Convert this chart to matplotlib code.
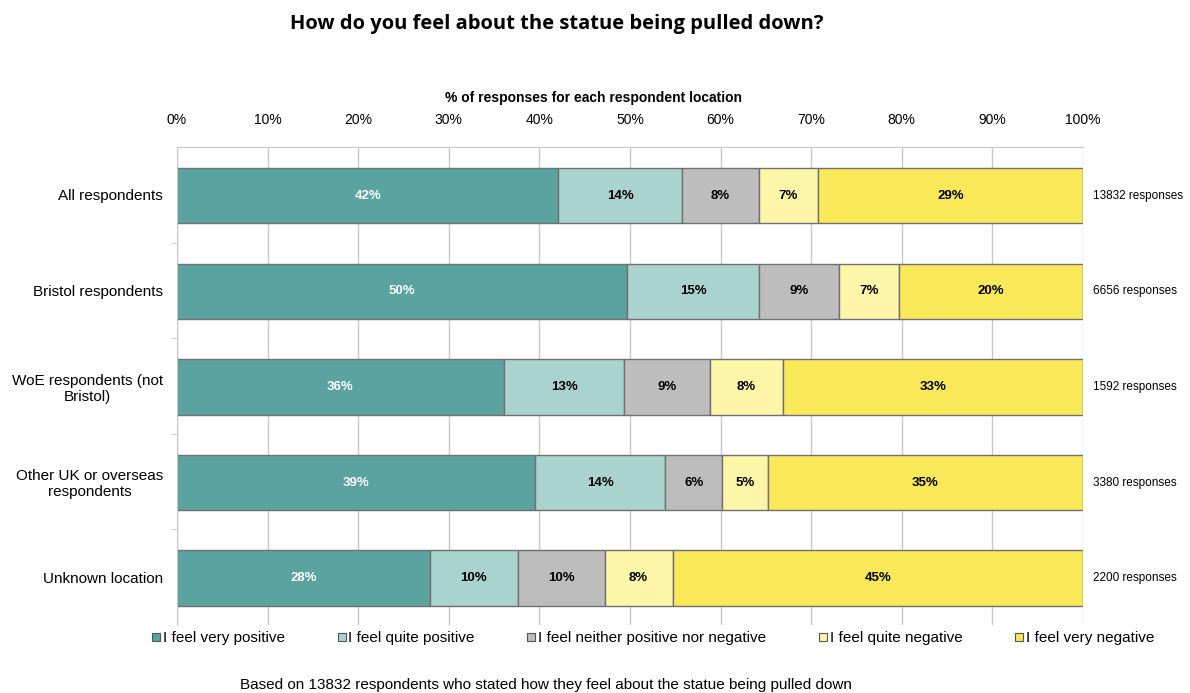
import matplotlib.pyplot as plt
import numpy as np
from matplotlib.lines import Line2D

plt.rcParams['font.family'] = ['Liberation Sans', 'DejaVu Sans']

# data (% of responses)
locations = ['All respondents', 'Bristol respondents', 'WoE respondents (not\nBristol)',
             'Other UK or overseas\nrespondents', 'Unknown location']
responses = [13832, 6656, 1592, 3380, 2200]
series_names = ['I feel very positive', 'I feel quite positive',
                'I feel neither positive nor negative', 'I feel quite negative',
                'I feel very negative']
very_pos = [42.1, 49.7, 36.1, 39.5, 27.9]
quite_pos = [13.7, 14.6, 13.3, 14.4, 9.7]
neither = [8.4, 8.8, 9.4, 6.3, 9.6]
quite_neg = [6.6, 6.6, 8.1, 5.0, 7.5]
very_neg = [29.2, 20.3, 33.1, 34.8, 45.3]
labels = [['42%', '14%', '8%', '7%', '29%'],
          ['50%', '15%', '9%', '7%', '20%'],
          ['36%', '13%', '9%', '8%', '33%'],
          ['39%', '14%', '6%', '5%', '35%'],
          ['28%', '10%', '10%', '8%', '45%']]

colors = ['#5BA3A0', '#AAD2CF', '#BDBDBD', '#FDF5A8', '#F9E857']
text_colors = ['white', 'black', 'black', 'black', 'black']

fig = plt.figure(figsize=(11.9, 6.93), dpi=100)
ax = fig.add_axes([0.1487, 0.098, 0.7613, 0.690])

y = np.arange(len(locations))
left = np.zeros(len(locations))
for i, vals in enumerate([very_pos, quite_pos, neither, quite_neg, very_neg]):
    vals = np.array(vals)
    ax.barh(y + 0.01, vals, left=left, height=0.58, color=colors[i],
            edgecolor='#707070', linewidth=1, zorder=2)
    for j in range(len(locations)):
        ax.text(left[j] + vals[j] / 2, y[j] + 0.01, labels[j][i], ha='center', va='center',
                fontsize=9.5, fontweight='bold', color=text_colors[i], zorder=3)
    left += vals

ax.set_xlim(0, 100)
ax.set_ylim(4.5, -0.5)
ax.xaxis.tick_top()
ax.set_xticks(np.arange(0, 101, 10))
ax.set_xticklabels([f'{v}%' for v in range(0, 101, 10)], fontsize=10)
ax.tick_params(axis='x', length=0, pad=14)
ax.grid(axis='x', color='#C8C8C8', linewidth=1, zorder=0)

ax.set_yticks(y)
ax.set_yticklabels(locations, fontsize=11, multialignment='center')
ax.set_yticks(np.arange(0.5, 4.5, 1), minor=True)
ax.tick_params(axis='y', which='major', length=0, pad=10)
ax.tick_params(axis='y', which='minor', length=4, color='#C8C8C8')

for s in ['right', 'bottom']:
    ax.spines[s].set_visible(False)
ax.spines['top'].set_color('#C8C8C8')
ax.spines['left'].set_color('#C8C8C8')

for j, n in enumerate(responses):
    ax.text(101.1, y[j] + 0.01, f'{n} responses', ha='left', va='center', fontsize=8.5)

fig.text(0.468, 0.965, 'How do you feel about the statue being pulled down?',
         ha='center', va='center', fontsize=14.5, fontweight='bold',
         family=['Open Sans', 'DejaVu Sans'])
fig.text(0.499, 0.858, '% of responses for each respondent location',
         ha='center', va='center', fontsize=10, fontweight='bold')

handles = [Line2D([], [], marker='s', linestyle='none', markersize=6,
                  markerfacecolor=c, markeredgecolor='#555555', markeredgewidth=0.8)
           for c in colors]
fig.legend(handles, series_names, loc='center', bbox_to_anchor=(0.548, 0.079), ncol=5,
           frameon=False, fontsize=11, handletextpad=0.05, columnspacing=3.3,
           handlelength=0.8)

fig.text(0.459, 0.012, 'Based on 13832 respondents who stated how they feel about the statue being pulled down',
         ha='center', va='center', fontsize=11)

fig.savefig('out.png', dpi=100)
